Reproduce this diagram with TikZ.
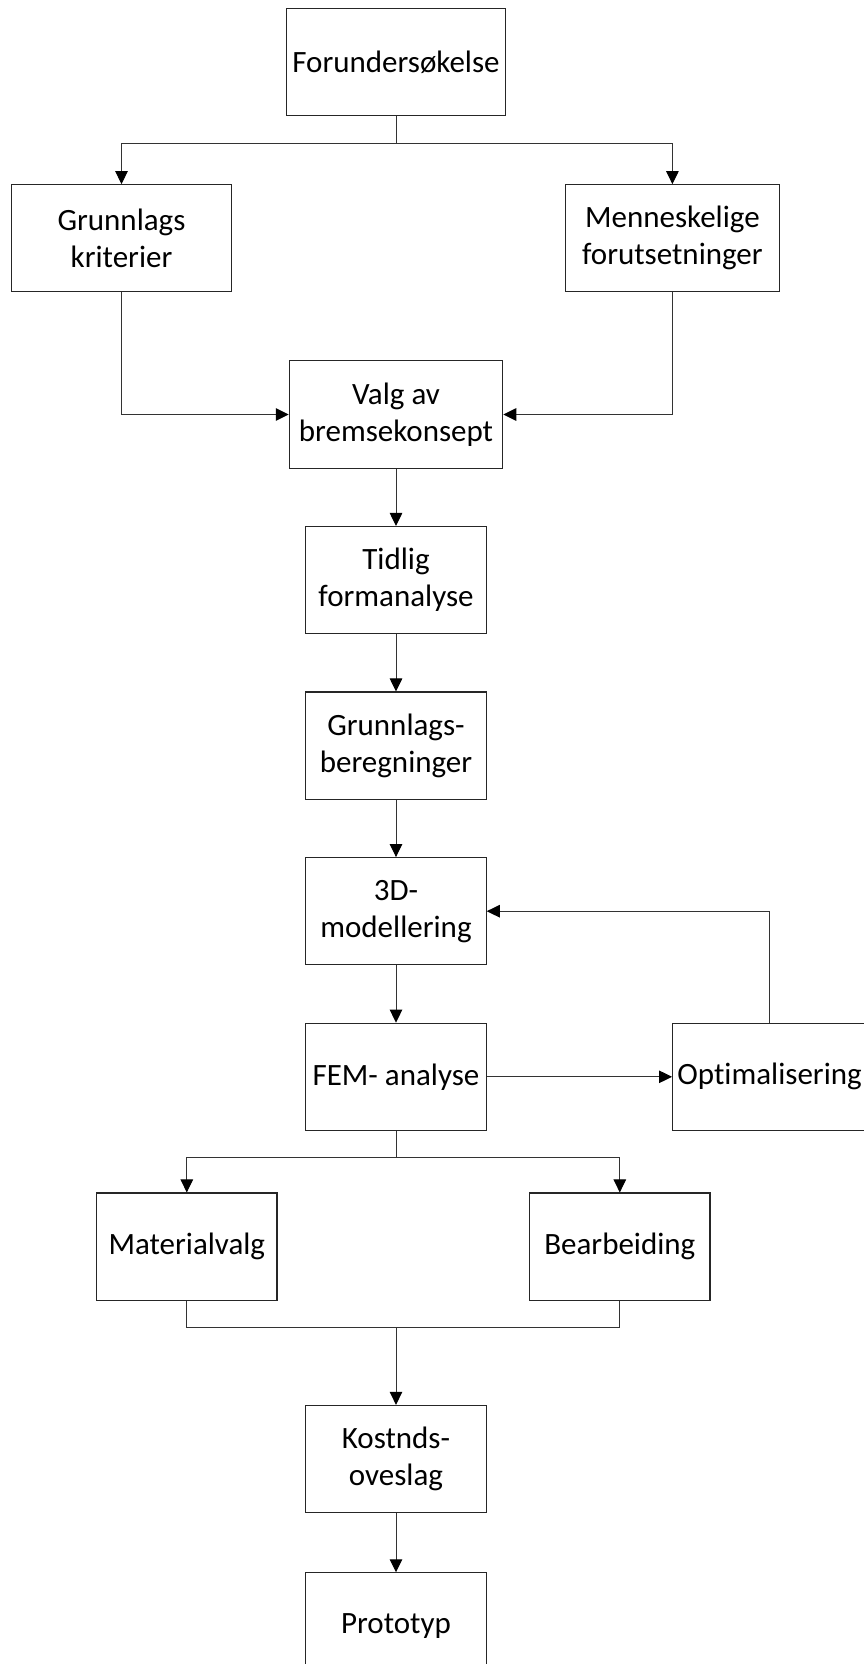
\documentclass[tikz,border=0pt]{standalone}
\usepackage{fontspec}
\setmainfont{Carlito}[Ligatures={NoCommon}]
\usetikzlibrary{arrows.meta}
\begin{document}
\begin{tikzpicture}[x=1pt,y=-1pt,
  box/.style={draw=black!85,line width=1.1pt,fill=white,inner sep=0pt,align=center,
    minimum height=107.2pt,font=\fontsize{31}{37}\selectfont},
  mainbox/.style={box,minimum width=180.4pt},
  conn/.style={draw=black!80,line width=1pt},
  arr/.style={conn,-{Triangle[length=13pt,width=12.5pt,color=black]}}]
\useasboundingbox (0,0) rectangle (864,1664);
\clip (0,0) rectangle (864,1664);
\node[box,minimum width=219.7pt] (f) at (396,62.1) {Forundersøkelse};
\node[box,minimum width=219.7pt] (gk) at (121.5,238.3) {Grunnlags\\kriterier};
\node[box,minimum width=213.4pt] (mf) at (672.4,238.3) {Menneskelige\\forutsetninger};
\node[box,minimum width=213.4pt] (vb) at (396,414.5) {Valg av\\bremsekonsept};
\node[mainbox] (tf) at (396,580.1) {Tidlig\\formanalyse};
\node[mainbox] (gb) at (396,745.6) {Grunnlags-\\beregninger};
\node[mainbox] (md) at (396,911.2) {3D-\\modellering};
\node[mainbox] (fem) at (396,1076.8) {FEM- analyse};
\node[box,minimum width=194pt] (opt) at (769.6,1076.8) {Optimalisering};
\node[mainbox] (mv) at (186.8,1246.6) {Materialvalg};
\node[mainbox] (bb) at (619.8,1246.6) {Bearbeiding};
\node[mainbox] (ko) at (396,1459) {Kostnds-\\oveslag};
\node[mainbox] (pt) at (396,1626.4) {Prototyp};
\coordinate (b1) at (396,143.3);
\coordinate (b2) at (396,1157.5);
\coordinate (b3) at (396,1327.1);
\draw[conn] (f.south) -- (b1);
\draw[arr] (b1) -| (gk.north);
\draw[arr] (b1) -| (mf.north);
\draw[arr] (gk.south) |- (vb.west);
\draw[arr] (mf.south) |- (vb.east);
\draw[arr] (vb.south) -- (tf.north);
\draw[arr] (tf.south) -- (gb.north);
\draw[arr] (gb.south) -- (md.north);
\draw[arr] (md.south) -- (fem.north);
\draw[arr] (fem.east) -- (opt.west);
\draw[arr] (opt.north) |- (md.east);
\draw[conn] (fem.south) -- (b2);
\draw[arr] (b2) -| (mv.north);
\draw[arr] (b2) -| (bb.north);
\draw[conn] (mv.south) |- (b3);
\draw[conn] (bb.south) |- (b3);
\draw[arr] (b3) -- (ko.north);
\draw[arr] (ko.south) -- (pt.north);
\end{tikzpicture}
\end{document}
